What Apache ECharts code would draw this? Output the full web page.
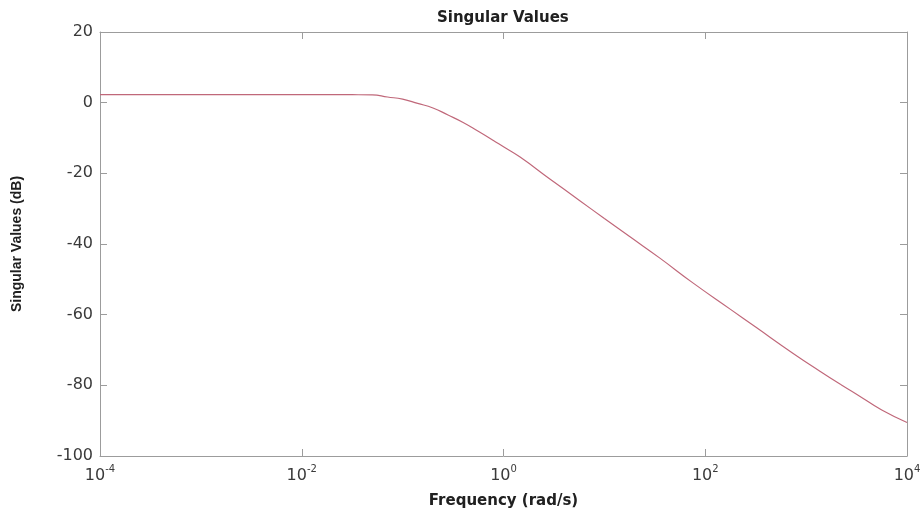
<!DOCTYPE html>
<html>
<head>
<meta charset="utf-8">
<title>Singular Values</title>
<script src="https://cdn.jsdelivr.net/npm/echarts@6/dist/echarts.min.js"></script>
<style>
  html, body { margin: 0; padding: 0; background: #ffffff; }
  #chart { width: 921px; height: 512px; }
</style>
</head>
<body>
<div id="chart"></div>
<script>
// Frequency samples (rad/s)
var frequency = [
  1e-4, 1e-3, 0.01, 0.0316, 0.05, 0.0708, 0.1, 0.141, 0.2, 0.282,
  0.398, 0.562, 0.794, 1, 1.46, 2.88, 5.62, 10, 17.8, 35.5,
  75.4, 178, 316, 738, 1370, 2240, 3160, 5620, 10000
];

// Singular value magnitude (dB) at each frequency
var singularDb = [
  2.3, 2.3, 2.3, 2.25, 2.2, 1.6, 1.0, -0.2, -1.5, -3.5,
  -5.6, -8.1, -10.7, -12.5, -15.4, -21.6, -27.6, -32.8, -37.9, -44.0,
  -51.0, -58.5, -63.5, -70.9, -76.0, -79.9, -82.5, -87.0, -90.5
];

// Axis ranges and tick values
var freqMin = 1e-4, freqMax = 1e4;
var dbTicks = [-100, -80, -60, -40, -20, 0, 20];

var points = frequency.map(function (f, i) { return [f, singularDb[i]]; });

var chart = echarts.init(document.getElementById('chart'), null, { renderer: 'canvas' });

var boxColor = '#9c9c9c';
var textColor = '#3a3a3a';
var fontFam = 'DejaVu Sans, Arial, sans-serif';

function powerLabel(v) {
  var e = Math.round(Math.log10(v));
  return '{b|10}{e|' + e + '}';
}

var boxLine = { show: true, onZero: false, lineStyle: { color: boxColor, width: 1 } };
var boxTick = { show: true, inside: true, length: 7, lineStyle: { color: boxColor } };

var option = {
  backgroundColor: '#ffffff',
  animation: false,
  title: {
    text: 'Singular Values',
    left: 432,
    top: 6,
    textStyle: { fontFamily: fontFam, fontSize: 15, fontWeight: 'bold', color: '#202020' }
  },
  grid: {
    left: 100, right: 14, top: 32, bottom: 56,
    containLabel: false,
    outerBoundsMode: 'none'
  },
  xAxis: [{
    type: 'log',
    logBase: 10,
    min: freqMin,
    max: freqMax,
    interval: 2,
    position: 'bottom',
    name: 'Frequency (rad/s)',
    nameLocation: 'middle',
    nameGap: 38,
    nameTextStyle: { fontFamily: fontFam, fontSize: 15, fontWeight: 'bold', color: '#202020' },
    axisLine: boxLine,
    axisTick: boxTick,
    minorTick: { show: false },
    splitLine: { show: false },
    axisLabel: {
      margin: 8,
      formatter: powerLabel,
      rich: {
        b: { fontFamily: fontFam, fontSize: 16, color: textColor },
        e: { fontFamily: fontFam, fontSize: 10, color: textColor, padding: [0, 0, 14, 0] }
      }
    }
  }, {
    type: 'log',
    logBase: 10,
    min: freqMin,
    max: freqMax,
    interval: 2,
    position: 'top',
    axisLine: boxLine,
    axisTick: boxTick,
    minorTick: { show: false },
    splitLine: { show: false },
    axisLabel: { show: false }
  }],
  yAxis: [{
    type: 'value',
    min: dbTicks[0],
    max: dbTicks[dbTicks.length - 1],
    interval: 20,
    position: 'left',
    name: 'Singular Values (dB)',
    nameLocation: 'middle',
    nameGap: 76,
    nameRotate: 90,
    nameTextStyle: { fontFamily: 'Liberation Sans, Arial, sans-serif', fontSize: 14, fontWeight: 'bold', color: '#202020' },
    axisLine: boxLine,
    axisTick: boxTick,
    splitLine: { show: false },
    axisLabel: { margin: 7, fontFamily: fontFam, fontSize: 16, color: textColor }
  }, {
    type: 'value',
    min: dbTicks[0],
    max: dbTicks[dbTicks.length - 1],
    interval: 20,
    position: 'right',
    axisLine: boxLine,
    axisTick: boxTick,
    splitLine: { show: false },
    axisLabel: { show: false }
  }],
  series: [{
    type: 'line',
    xAxisIndex: 0,
    yAxisIndex: 0,
    data: points,
    showSymbol: false,
    smooth: 0.5,
    lineStyle: { color: '#c0687a', width: 1.2 }
  }]
};

chart.setOption(option);
</script>
</body>
</html>
